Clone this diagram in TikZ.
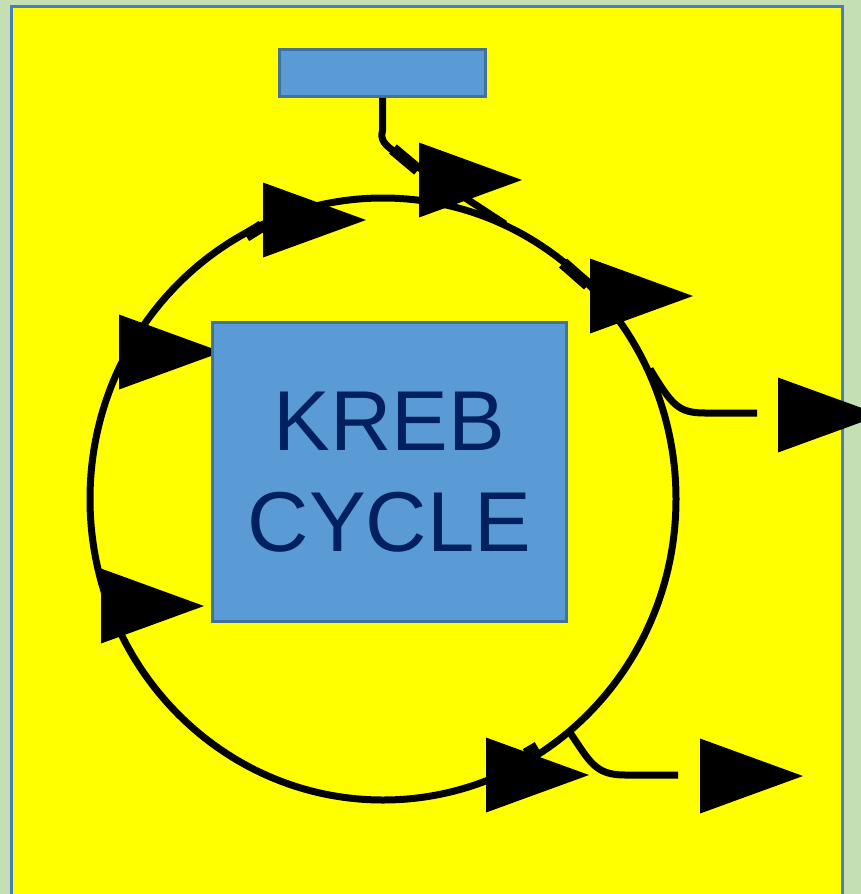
\documentclass[tikz,border=0pt]{standalone}
\usepackage{fontspec}
\setmainfont{Liberation Sans}
\definecolor{bggreen}{HTML}{C5DFB4}
\definecolor{paneyellow}{HTML}{FFFF00}
\definecolor{frameblue}{HTML}{4A7EBB}
\definecolor{boxfill}{HTML}{5B9BD5}
\definecolor{boxedge}{HTML}{41719C}
\definecolor{navytext}{HTML}{002060}
\begin{document}
\begin{tikzpicture}[x=1pt,y=-1pt,
  bluebox/.style={draw=boxedge,fill=boxfill,line width=2.5pt,inner sep=0pt},
  flow/.style={line width=7pt,draw=black},
  stub/.style={line width=12pt,draw=black},
  headtri/.pic={\fill[black] (0,-37.5) -- (103,0) -- (0,37.5) -- cycle;}]
\useasboundingbox (0,0) rectangle (861,894);
% page and panel
\fill[bggreen] (0,0) rectangle (861,894);
\filldraw[fill=paneyellow,draw=frameblue,line width=3pt] (11,6) rectangle (842,905);

% cycle ring
\coordinate (cc) at (383,499);
\draw[flow] (cc) ellipse [x radius=293, y radius=301];

% anchor points on the ring
\coordinate (inlet) at (505,224);
\coordinate (outA) at (650,369);
\coordinate (outB) at (569,731);
\coordinate (endA) at (757,413);
\coordinate (endB) at (678,775);

% input box and its feed into the ring
\node[bluebox,minimum width=206pt,minimum height=47pt] (src) at (382.5,73) {};
\draw[flow] (src.south) -- ++(0,33) .. controls (380,140) and (385,145) .. (395,152) -- (inlet);

% side outlets
\draw[flow] (outA) .. controls (672,405) and (678,413) .. (705,413) -- (endA);
\draw[flow] (outB) .. controls (590,762) and (595,775) .. (625,775) -- (endB);

% thick joints where segments meet
\draw[stub] (393,149) -- (418,170);
\draw[stub] (563,263) -- (588,285);
\draw[stub] (246,236) -- (262,226);
\draw[line width=9pt] (525,753) -- (537,746);

% arrowheads
\pic at (263,220) {headtri};
\pic at (419,180) {headtri};
\pic at (590,296) {headtri};
\pic at (778,415) {headtri};
\pic at (119,352) {headtri};
\pic at (101,606) {headtri};
\pic at (486,775) {headtri};
\pic at (700,776) {headtri};

% central label box
\node[bluebox,minimum width=354pt,minimum height=299pt,text=navytext,
      align=center,font=\fontsize{85}{101}\selectfont] (kreb) at (389.5,472) {KREB\\CYCLE};
\end{tikzpicture}
\end{document}
